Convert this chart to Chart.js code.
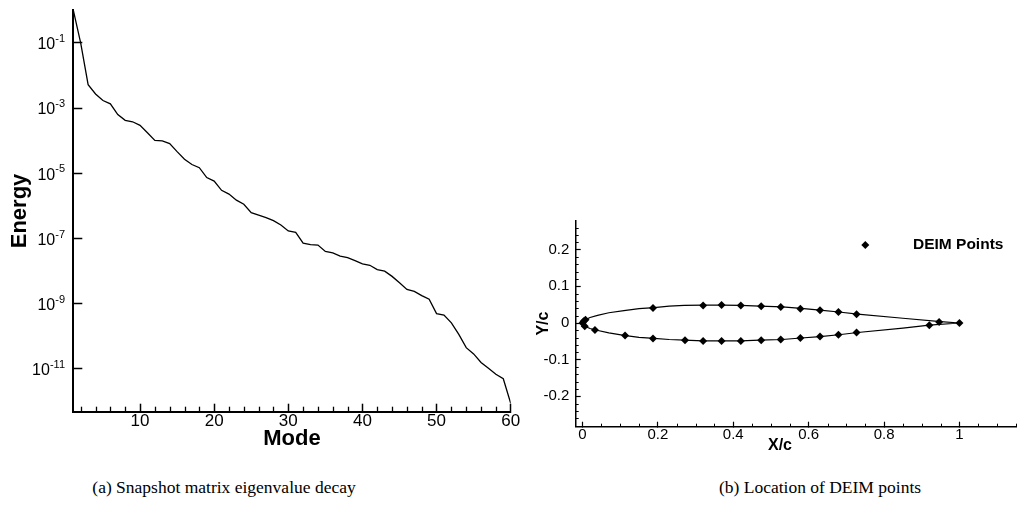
<!DOCTYPE html>
<html>
<head>
<meta charset="utf-8">
<script src="https://cdn.jsdelivr.net/npm/chart.js@4.4.1/dist/chart.umd.min.js"></script>
<style>
  body { margin: 0; background: #fff; width: 1020px; height: 522px; overflow: hidden; position: relative; }
  canvas { position: absolute; }
  #energyChart { left: 0; top: 0; }
  #deimChart { left: 530px; top: 200px; }
  .caption { position: absolute; top: 476px; font-family: "Liberation Serif", serif; font-size: 17.5px; line-height: 22px; white-space: nowrap; transform: translateX(-50%); color: #000; }
</style>
</head>
<body>
<canvas id="energyChart" width="530" height="460"></canvas>
<canvas id="deimChart" width="490" height="265"></canvas>
<div class="caption" style="left:224px">(a) Snapshot matrix eigenvalue decay</div>
<div class="caption" style="left:820px">(b) Location of DEIM points</div>
<script>
// (a) eigenvalue decay
const modes = [1, 2, 3, 4, 5, 6, 7, 8, 9, 10, 11, 12, 13, 14, 15, 16, 17, 18, 19, 20,
  21, 22, 23, 24, 25, 26, 27, 28, 29, 30, 31, 32, 33, 34, 35, 36, 37, 38, 39, 40,
  41, 42, 43, 44, 45, 46, 47, 48, 49, 50, 51, 52, 53, 54, 55, 56, 57, 58, 59, 60];
const energy = [1.0, 9.8e-2, 5.2e-3, 2.7e-3, 1.7e-3, 1.35e-3, 6.3e-4, 4.2e-4, 3.8e-4, 2.95e-4,
  1.74e-4, 1.02e-4, 9.8e-5, 8.1e-5, 4.6e-5, 2.7e-5, 1.86e-5, 1.48e-5, 7.4e-6, 5.75e-6,
  3.0e-6, 2.3e-6, 1.5e-6, 1.12e-6, 6.2e-7, 5.2e-7, 4.4e-7, 3.55e-7, 2.6e-7, 1.7e-7,
  1.55e-7, 7.2e-8, 6.5e-8, 6.3e-8, 4.0e-8, 3.6e-8, 2.9e-8, 2.6e-8, 2.1e-8, 1.66e-8,
  1.51e-8, 1.12e-8, 1.0e-8, 6.9e-9, 4.4e-9, 2.75e-9, 2.4e-9, 1.78e-9, 1.38e-9, 5.0e-10,
  4.5e-10, 2.6e-10, 1.15e-10, 4.5e-11, 2.9e-11, 1.58e-11, 1.05e-11, 6.9e-12, 5.0e-12, 8.9e-13];
const modeTicks = [10, 20, 30, 40, 50, 60];
const modeMinorTicks = [2, 4, 6, 8, 12, 14, 16, 18, 22, 24, 26, 28, 32, 34, 36, 38, 42, 44, 46, 48, 52, 54, 56, 58];
const energyTicks = [1e-11, 1e-9, 1e-7, 1e-5, 1e-3, 1e-1];

// (b) airfoil outline and DEIM points
const outlineX = [1.0, 0.95, 0.85, 0.73, 0.68, 0.63, 0.58, 0.53, 0.47, 0.42, 0.37, 0.32, 0.27, 0.23, 0.19, 0.15, 0.11, 0.07, 0.04, 0.02, 0.008, 0.002, 0.0,
  0.002, 0.006, 0.02, 0.035, 0.07, 0.11, 0.15, 0.19, 0.23, 0.27, 0.32, 0.37, 0.42, 0.47, 0.53, 0.58, 0.63, 0.68, 0.73, 0.85, 0.92, 1.0];
const outlineY = [0.0, 0.004, 0.013, 0.024, 0.030, 0.035, 0.040, 0.044, 0.046, 0.048, 0.049, 0.049, 0.048, 0.046, 0.042, 0.039, 0.034, 0.028, 0.021, 0.015, 0.009, 0.004, 0.0,
  -0.004, -0.009, -0.015, -0.019, -0.027, -0.034, -0.039, -0.042, -0.045, -0.047, -0.049, -0.049, -0.049, -0.047, -0.045, -0.041, -0.037, -0.032, -0.026, -0.014, -0.006, 0.0];
const deimX = [0.0, 0.003, 0.008, 0.187, 0.32, 0.369, 0.42, 0.474, 0.526, 0.578, 0.63, 0.679, 0.727, 0.946, 1.0,
  0.006, 0.033, 0.113, 0.187, 0.272, 0.32, 0.369, 0.42, 0.474, 0.526, 0.578, 0.63, 0.679, 0.727, 0.92];
const deimY = [0.0, 0.005, 0.009, 0.041, 0.048, 0.049, 0.048, 0.046, 0.044, 0.039, 0.035, 0.030, 0.024, 0.003, 0.0,
  -0.009, -0.019, -0.034, -0.042, -0.047, -0.049, -0.049, -0.049, -0.047, -0.045, -0.041, -0.037, -0.032, -0.026, -0.006];
const xcTicks = [0, 0.2, 0.4, 0.6, 0.8, 1];
const xcMinorTicks = [0.05, 0.1, 0.15, 0.25, 0.3, 0.35, 0.45, 0.5, 0.55, 0.65, 0.7, 0.75, 0.85, 0.9, 0.95, 1.05, 1.1, 1.15];
const ycTicks = [-0.2, -0.1, 0, 0.1, 0.2];
const ycMinorTicks = [-0.26, -0.24, -0.22, -0.18, -0.16, -0.14, -0.12, -0.08, -0.06, -0.04, -0.02,
  0.02, 0.04, 0.06, 0.08, 0.12, 0.14, 0.16, 0.18, 0.22, 0.24, 0.26];

const family = "'Liberation Sans', Arial, Helvetica, sans-serif";
Chart.defaults.font.family = family;
Chart.defaults.color = '#000';

// short inward ticks between the labelled ones
const minorTicks = {
  id: 'minorTicks',
  afterDraw(chart, args, opts) {
    const ctx = chart.ctx;
    const sx = chart.scales.x, sy = chart.scales.y;
    ctx.save();
    ctx.strokeStyle = '#000';
    ctx.lineWidth = opts.width;
    (opts.x || []).forEach(v => {
      const px = Math.round(sx.getPixelForValue(v)) + 0.5;
      if (px > chart.chartArea.right + 1) return;
      ctx.beginPath();
      ctx.moveTo(px, sx.top);
      ctx.lineTo(px, sx.top - opts.len);
      ctx.stroke();
    });
    (opts.y || []).forEach(v => {
      const py = Math.round(sy.getPixelForValue(v)) + 0.5;
      ctx.beginPath();
      ctx.moveTo(sy.right, py);
      ctx.lineTo(sy.right + opts.len, py);
      ctx.stroke();
    });
    ctx.restore();
  }
};

// 10^n labels on the log axis
const powerLabels = {
  id: 'powerLabels',
  afterDraw(chart) {
    const s = chart.scales.y, ctx = chart.ctx;
    if (s.type !== 'logarithmic') return;
    ctx.save();
    ctx.fillStyle = '#000';
    ctx.textBaseline = 'middle';
    s.ticks.forEach(t => {
      const y = s.getPixelForValue(t.value);
      const exp = String(Math.round(Math.log10(t.value)));
      const right = 65;
      ctx.font = '11px ' + family;
      const ew = ctx.measureText(exp).width;
      ctx.textAlign = 'left';
      ctx.fillText(exp, right - ew, y - 4);
      ctx.font = '16px ' + family;
      ctx.textAlign = 'right';
      ctx.fillText('10', right - ew, y + 2);
    });
    ctx.restore();
  }
};

// legend drawn inside the plot, plus the off-centre X/c title
const pointLegend = {
  id: 'pointLegend',
  afterDraw(chart, args, opts) {
    const ctx = chart.ctx;
    const ds = chart.data.datasets[opts.index];
    ctx.save();
    ctx.fillStyle = '#000';
    Chart.helpers.drawPoint(ctx, { pointStyle: 'rectRot', radius: 4, borderWidth: 0 }, opts.x, opts.y);
    ctx.font = 'bold 15.5px ' + family;
    ctx.textAlign = 'left';
    ctx.textBaseline = 'middle';
    ctx.fillText(ds.label, opts.x + 47.7, opts.y);
    ctx.font = 'bold 16px ' + family;
    ctx.textAlign = 'center';
    ctx.fillText(opts.xTitle, opts.xTitleX, opts.xTitleY);
    ctx.restore();
  }
};

new Chart(document.getElementById('energyChart'), {
  type: 'scatter',
  data: {
    datasets: [{
      label: 'Energy',
      data: modes.map((m, i) => ({ x: m, y: energy[i] })),
      showLine: true,
      borderColor: '#000',
      borderWidth: 1.3,
      pointRadius: 0,
      tension: 0
    }]
  },
  options: {
    responsive: false,
    animation: false,
    devicePixelRatio: 1,
    layout: { padding: { top: 8.3, right: 19.3, left: 0, bottom: 0 } },
    plugins: {
      legend: { display: false },
      tooltip: { enabled: false },
      minorTicks: { x: modeMinorTicks, len: 5, width: 1.3 }
    },
    scales: {
      x: {
        type: 'linear',
        min: 1,
        max: 60,
        afterBuildTicks: s => { s.ticks = modeTicks.map(v => ({ value: v })); },
        afterFit: s => { s.height = 48.3; },
        ticks: { font: { size: 17 }, color: '#000', padding: 7.6, maxRotation: 0, autoSkip: false },
        grid: { drawOnChartArea: false, drawTicks: true, tickLength: -8, tickWidth: 1.5, tickColor: '#000' },
        border: { color: '#000', width: 2 },
        title: { display: true, text: 'Mode', color: '#000', font: { size: 22, weight: 'bold' }, padding: { top: 0, bottom: 7.4 } }
      },
      y: {
        type: 'logarithmic',
        min: 4.9e-13,
        max: 1,
        afterBuildTicks: s => { s.ticks = energyTicks.map(v => ({ value: v })); },
        afterFit: s => { s.width = 73.3; },
        ticks: { callback: () => '', autoSkip: false },
        grid: { drawOnChartArea: false, drawTicks: true, tickLength: -9, tickWidth: 1.5, tickColor: '#000' },
        border: { color: '#000', width: 2 },
        title: { display: true, text: 'Energy', color: '#000', font: { size: 22, weight: 'bold' }, padding: { top: 6.8, bottom: 0 } }
      }
    }
  },
  plugins: [minorTicks, powerLabels]
});

new Chart(document.getElementById('deimChart'), {
  type: 'scatter',
  data: {
    datasets: [{
      label: 'DEIM Points',
      data: deimX.map((x, i) => ({ x: x, y: deimY[i] })),
      pointStyle: 'rectRot',
      pointRadius: 4,
      pointBackgroundColor: '#000',
      pointBorderWidth: 0,
      showLine: false,
      order: 0
    }, {
      label: 'Airfoil',
      data: outlineX.map((x, i) => ({ x: x, y: outlineY[i] })),
      showLine: true,
      borderColor: '#000',
      borderWidth: 1.2,
      pointRadius: 0,
      tension: 0,
      order: 1
    }]
  },
  options: {
    responsive: false,
    animation: false,
    devicePixelRatio: 1,
    layout: { padding: { top: 13.3, right: 0, left: 0, bottom: 0 } },
    plugins: {
      legend: { display: false },
      tooltip: { enabled: false },
      minorTicks: { x: xcMinorTicks, y: ycMinorTicks, len: 3, width: 1 },
      pointLegend: { index: 0, x: 335.3, y: 45, xTitle: 'X/c', xTitleX: 250, xTitleY: 246 }
    },
    scales: {
      x: {
        type: 'linear',
        min: -0.018,
        max: 1.15,
        afterBuildTicks: s => { s.ticks = xcTicks.map(v => ({ value: v })); },
        afterFit: s => { s.height = 38.3; },
        ticks: { font: { size: 15 }, color: '#000', padding: 4.3, maxRotation: 0, autoSkip: false, callback: v => String(v) },
        grid: { drawOnChartArea: false, drawTicks: true, tickLength: -5, tickWidth: 1.2, tickColor: '#000' },
        border: { color: '#000', width: 1.5 }
      },
      y: {
        type: 'linear',
        min: -0.283,
        max: 0.28,
        afterBuildTicks: s => { s.ticks = ycTicks.map(v => ({ value: v })); },
        afterFit: s => { s.width = 45.7; },
        ticks: { font: { size: 15 }, color: '#000', padding: 11.4, autoSkip: false, callback: v => String(v) },
        grid: { drawOnChartArea: false, drawTicks: true, tickLength: -5, tickWidth: 1.2, tickColor: '#000' },
        border: { color: '#000', width: 1.5 },
        title: { display: true, text: 'Y/c', color: '#000', font: { size: 16, weight: 'bold' }, padding: { top: 4.4, bottom: 0 } }
      }
    }
  },
  plugins: [minorTicks, pointLegend]
});
</script>
</body>
</html>
